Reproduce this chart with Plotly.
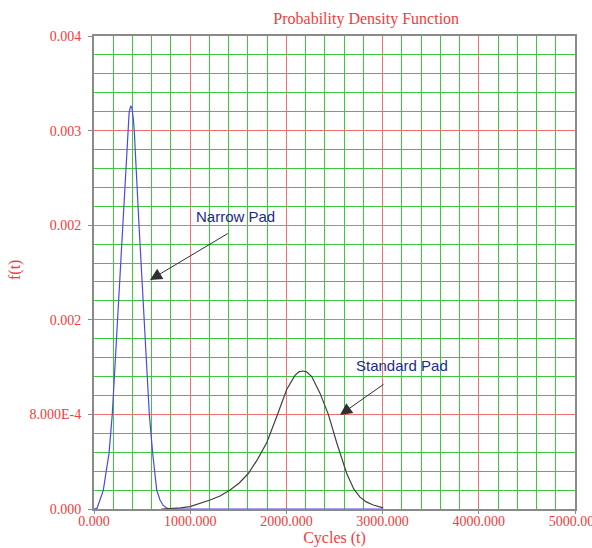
import plotly.graph_objects as go

# Narrow Pad pdf
narrow_x = [0, 30, 62, 97, 127, 156, 190, 244, 298, 340, 350, 365, 381, 395, 410, 419, 468, 521, 575, 610, 652, 686, 720, 756, 800, 1000, 1500, 2000, 2500, 3000]
narrow_y = [0.0, 0.000005, 0.000076, 0.00016, 0.00032, 0.00047, 0.0008, 0.0016, 0.0024, 0.00309, 0.00319, 0.00335, 0.00341, 0.00339, 0.00329, 0.00319, 0.0024, 0.0016, 0.0008, 0.00047, 0.00016, 0.000076, 0.00003, 0.0000085, 0.0, 0.0, 0.0, 0.0, 0.0, 0.0]

# Standard Pad pdf
standard_x = [700, 800, 900, 998, 1100, 1206, 1310, 1414, 1510, 1604, 1700, 1795, 1899, 2003, 2089, 2130, 2169, 2210, 2263, 2349, 2436, 2523, 2627, 2700, 2765, 2830, 2903, 3007]
standard_y = [0.0, 0.000003, 0.00001, 0.00002, 0.000045, 0.000076, 0.00011, 0.00016, 0.00022, 0.0003, 0.00042, 0.00056, 0.00078, 0.00101, 0.00113, 0.00116, 0.001167, 0.00116, 0.00112, 0.00098, 0.0008, 0.00056, 0.0003, 0.00017, 0.0001, 0.00006, 0.000034, 0.00001]

y_tickvals = [0, 0.0008, 0.0016, 0.0024, 0.0032, 0.004]
y_ticktext = ["0.000", "8.000E-4", "0.002", "0.002", "0.003", "0.004"]
x_tickvals = [0, 1000, 2000, 3000, 4000, 5000]
x_ticktext = ["0.000", "1000.000", "2000.000", "3000.000", "4000.000", "5000.000"]

RED = "#f03c3c"
GRID_RED = "#f07070"
GRID_GREEN = "#3cc83c"
SERIF = "Liberation Serif, Times New Roman, serif"

fig = go.Figure()
fig.add_trace(go.Scatter(x=narrow_x, y=narrow_y, mode="lines", line=dict(color="#4a4ae0", width=1.2), showlegend=False, cliponaxis=False))
fig.add_trace(go.Scatter(x=standard_x, y=standard_y, mode="lines", line=dict(color="#404040", width=1.2), showlegend=False))

# labels
fig.add_annotation(x=1476, y=0.00247, text="Narrow Pad", showarrow=False, xref="x", yref="y",
                   font=dict(family="Liberation Sans, Arial", size=15, color="#1e2a8a"))
fig.add_annotation(x=582, y=0.001937, ax=1406, ay=0.002337, axref="x", ayref="y", xref="x", yref="y",
                   text="", showarrow=True, arrowhead=2, arrowsize=2.4, arrowwidth=1, arrowcolor="#303030")
fig.add_annotation(x=3200, y=0.00121, text="Standard Pad", showarrow=False, xref="x", yref="y",
                   font=dict(family="Liberation Sans, Arial", size=15, color="#1e2a8a"))
fig.add_annotation(x=2557, y=0.000795, ax=3025, ay=0.001063, axref="x", ayref="y", xref="x", yref="y",
                   text="", showarrow=True, arrowhead=2, arrowsize=2.4, arrowwidth=1, arrowcolor="#303030")
# y-axis title
fig.add_annotation(x=(15 - 94) / 481, y=(509 - 270) / 473, xref="paper", yref="paper", text="f(t)",
                   xanchor="center", yanchor="middle",
                   showarrow=False, textangle=-90, font=dict(family=SERIF, size=16, color=RED))

fig.update_layout(
    width=592, height=548,
    margin=dict(l=94, r=17, t=36, b=39, autoexpand=False),
    paper_bgcolor="white", plot_bgcolor="white",
    title=dict(text="Probability Density Function", x=335 / 592, xanchor="center", xref="paper",
               y=1 - 18 / 548, yanchor="middle", yref="container",
               font=dict(family=SERIF, size=16, color=RED), automargin=False),
    font=dict(family=SERIF, size=14, color=RED),
)
fig.update_xaxes(
    range=[0, 5000], tickmode="array", tickvals=x_tickvals, ticktext=x_ticktext,
    showgrid=True, gridcolor=GRID_RED, gridwidth=1,
    minor=dict(tickmode="linear", tick0=0, dtick=200, showgrid=True, gridcolor=GRID_GREEN, gridwidth=1),
    showline=True, linecolor="#8a8a8a", linewidth=2, mirror=True,
    ticks="outside", ticklen=3, tickcolor="#8a8a8a",
    tickfont=dict(family=SERIF, size=14, color=RED), ticklabeloverflow="allow", ticklabelstandoff=-5,
    title=dict(text="Cycles (t)", font=dict(family=SERIF, size=16, color=RED), standoff=2),
    zeroline=False, automargin=False,
)
fig.update_yaxes(
    range=[0, 0.004], tickmode="array", tickvals=y_tickvals, ticktext=y_ticktext,
    showgrid=True, gridcolor=GRID_RED, gridwidth=1,
    minor=dict(tickmode="linear", tick0=0, dtick=0.00016, showgrid=True, gridcolor=GRID_GREEN, gridwidth=1),
    showline=True, linecolor="#8a8a8a", linewidth=2, mirror=True,
    ticks="outside", ticklen=4, tickcolor="#8a8a8a",
    tickfont=dict(family=SERIF, size=14, color=RED), ticklabelstandoff=4,
    zeroline=False, automargin=False,
)
fig.write_html("out.html", config={"displayModeBar": False},
               post_script="document.body.style.margin='0';document.body.style.overflow='hidden';")
